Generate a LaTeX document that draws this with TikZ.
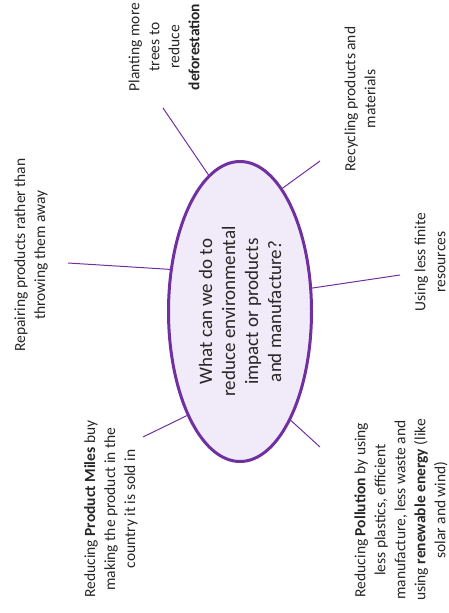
\documentclass[tikz,border=0pt]{standalone}
\usepackage{fontspec}
\setmainfont{Carlito}
\usetikzlibrary{shapes.geometric}
\definecolor{ringpurple}{HTML}{7030A0}
\definecolor{ringfill}{HTML}{F1EAF8}
\definecolor{inktext}{HTML}{262626}
\tikzset{
	idea/.style={rotate=90, align=center, text=inktext, inner sep=0pt, font=\fontsize{15.5}{20}\selectfont},
	hub/.style={ellipse, draw=ringpurple, line width=3pt, fill=ringfill, rotate=90, inner sep=0pt,
		minimum width=300pt, minimum height=143pt, align=center, text=inktext, font=\fontsize{19}{23}\selectfont},
	spoke/.style={draw=ringpurple, line width=1pt},
}

\begin{document}
\begin{tikzpicture}[x=1pt,y=-1pt]
				\useasboundingbox (0,0) rectangle (449,613);
				
				% centre question
				\node[hub] (hub) at (240,311.5) {What can we do to\\reduce environmental\\impact or products\\and manufacture?};
				
				% answers round it
				\node[idea] (trees) at (164,47) {Planting more\\trees to\\reduce\\\textbf{deforestation}};
				\node[idea] (recycle) at (360,99) {Recycling products and\\materials};
				\node[idea] (repair) at (31,255) {Repairing products rather than\\throwing them away};
				\node[idea] (finite) at (430,262) {Using less finite\\resources};
				\node[idea] (miles) at (111,509) {Reducing \textbf{Product Miles} buy\\making the product in the\\country it is sold in};
				\node[idea] (pollution) at (401,510) {Reducing \textbf{Pollution} by using\\less plastics, efficient\\manufacture, less waste and\\using \textbf{renewable energy} (like\\solar and wind)};
				
				% loose ends of the spokes
				\coordinate (treesend) at (163,108);
				\coordinate (recycleend) at (320,161);
				\coordinate (repairend) at (68,263);
				\coordinate (finiteend) at (400,275);
				\coordinate (milesend) at (143,437);
				\coordinate (pollutionend) at (320,447);
				
				\draw[spoke] (hub.13.4) -- (treesend);
				\draw[spoke] (hub.341.3) -- (recycleend);
				\draw[spoke] (hub.59.2) -- (repairend);
				\draw[spoke] (hub.288.9) -- (finiteend);
				\draw[spoke] (hub.153.6) -- (milesend);
				\draw[spoke] (hub.205.5) -- (pollutionend);
			\end{tikzpicture}
\end{document}
